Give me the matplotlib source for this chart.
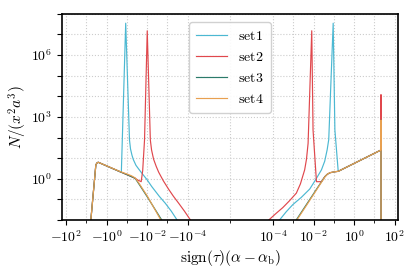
import numpy as np
import matplotlib
matplotlib.use("Agg")
import matplotlib.pyplot as plt
from matplotlib.ticker import FixedLocator, FixedFormatter, NullFormatter

plt.rcParams['mathtext.fontset'] = 'cm'
plt.rcParams['font.family'] = ['DejaVu Serif']

nan = np.nan

# ---- data (x = sign(tau)(alpha-alpha_b), y = N/(x^2 a^3)) ----
base_left_x = [-6.5, -6.0, -3.4, -3.0, -2.6, -0.22, -0.10, -0.06, -0.039,
               -0.025, -0.01, -0.0019, -1e-4]
base_left_y = [1e-3, 1e-2, 4.7, 5.8, 6.3, 2.2, 1.58, 1.27, 1.05,
               0.543, 0.136, 0.01, 1.3e-4]
base_right_x = [1e-4, 1.4e-3, 0.0036, 0.01, 0.036, 0.048, 0.065, 0.1, 0.166,
                21.0, 21.3, 21.6]
base_right_y = [2e-4, 0.01, 0.041, 0.188, 1.26, 1.66, 1.95, 2.14, 2.29,
                24.5, 700.0, 1e-3]

set1_x = [-6.5, -6.0, -3.4, -3.0, -2.6, -0.22, -0.187, -0.114,
          -0.0741, -0.0661, -0.0562, -0.0479, -0.0355, -0.0251, -0.0182, -0.01,
          -0.00589, -0.00251, -0.00126, -6.31e-4, -3.31e-4, -1.26e-4, nan,
          6.31e-5, 2.09e-4, 4.47e-4, 9.55e-4, 2.51e-3, 6.46e-3, 0.0126, 0.0245,
          0.0355, 0.0468, 0.0562, 0.0931, 0.113, 0.165, 21.0, 21.3, 21.6]
set1_y = [1e-3, 1e-2, 4.7, 5.8, 6.3, 2.2, 2.07, 3.5e7,
          75.9, 28.2, 14.1, 8.51, 4.47, 2.82, 1.86, 0.891,
          0.417, 0.141, 0.0646, 0.0263, 0.01, 2.82e-3, nan,
          1.58e-3, 0.01, 0.0251, 0.0562, 0.126, 0.316, 0.891, 2.69,
          7.08, 25.1, 79.4, 3.5e7, 234.0, 2.29, 24.5, 700.0, 1e-3]

set2_x = [-6.5, -6.0, -3.4, -3.0, -2.6, -0.22, -0.10, -0.06, -0.039, -0.028,
          -0.0196, -0.0165, -0.0134, -0.00984,
          -0.00692, -0.00603, -0.00479, -0.00355, -0.00269, -0.00158, -8.51e-4,
          -5.01e-4, -2.75e-4, -1.41e-4, -7.24e-5, -3.16e-5, nan,
          2.51e-5, 6.17e-5, 1.41e-4, 3.02e-4, 6.31e-4, 1.41e-3, 2.24e-3, 3.63e-3,
          4.47e-3, 5.37e-3, 8.13e-3, 9.42e-3, 0.0139, 0.0246, 0.036, 0.048,
          0.065, 0.1, 0.166, 21.0, 21.4, 21.6]
set2_y = [1e-3, 1e-2, 4.7, 5.8, 6.3, 2.2, 1.58, 1.27, 1.05, 0.85,
          0.72, 2.5, 75.9, 1.5e7,
          75.9, 25.1, 8.91, 3.98, 2.09, 0.794, 0.302,
          0.141, 0.0646, 0.0263, 0.01, 2.82e-3, nan,
          3.16e-3, 0.01, 0.0209, 0.0398, 0.0832, 0.2, 0.562, 2.69,
          8.91, 52.5, 1.5e7, 234.0, 0.72, 0.72, 1.26, 1.66,
          1.95, 2.14, 2.29, 24.5, 1.2e4, 1e-3]

set3_x = base_left_x + [nan] + base_right_x
set3_y = base_left_y + [nan] + base_right_y

set4_x = [-6.5, -6.0, -3.4, -3.0, -2.6, -0.22, -0.10, -0.06, -0.039,
          -0.025, -0.01, -0.0021, -1e-4, nan,
          1e-4, 1.5e-3, 0.0038, 0.0105, 0.037, 0.049, 0.065, 0.1, 0.166,
          21.0, 21.3, 21.6]
set4_y = [1e-3, 1e-2, 4.7, 5.8, 6.3, 2.25, 1.7, 1.4, 1.1,
          0.6, 0.15, 0.01, 1.1e-4, nan,
          1.8e-4, 0.01, 0.04, 0.185, 1.26, 1.7, 1.97, 2.15, 2.29,
          24.5, 700.0, 1e-3]

labels = ['set1', 'set2', 'set3', 'set4']
colors = ['#4bb8d2', '#e0474c', '#2b7a6a', '#e8a050']

xtick_vals = [-100, -1, -1e-2, -1e-4, 1e-4, 1e-2, 1, 100]
xtick_labels = [r'$-10^{2}$', r'$-10^{0}$', r'$-10^{-2}$', r'$-10^{-4}$',
                r'$10^{-4}$', r'$10^{-2}$', r'$10^{0}$', r'$10^{2}$']
ytick_label_exps = [0, 3, 6]

fig = plt.figure(figsize=(4.16, 2.76), dpi=100)
ax = fig.add_axes([0.149, 0.203, 0.808, 0.747])

series = [(set1_x, set1_y), (set2_x, set2_y), (set3_x, set3_y), (set4_x, set4_y)]
for (xs, ys), lab, c in zip(series, labels, colors):
    ax.plot(xs, ys, color=c, lw=0.85, label=r'$\mathrm{%s}$' % lab)

ax.set_xscale('symlog', linthresh=1e-5, linscale=1)
ax.set_yscale('log')
ax.set_xlim(-160, 150)
ax.set_ylim(1e-2, 1e8)

ax.xaxis.set_major_locator(FixedLocator(xtick_vals))
ax.xaxis.set_major_formatter(FixedFormatter(xtick_labels))
minor_x = [-10, -0.1, -1e-3, 0, 1e-3, 0.1, 10]
ax.xaxis.set_minor_locator(FixedLocator(minor_x))
ax.xaxis.set_minor_formatter(NullFormatter())
ax.yaxis.set_major_locator(FixedLocator([10.0**k for k in range(-2, 9)]))
ax.yaxis.set_major_formatter(FixedFormatter(
    [r'$10^{%d}$' % k if k in ytick_label_exps else '' for k in range(-2, 9)]))
ax.yaxis.set_minor_formatter(NullFormatter())
ax.yaxis.set_minor_locator(FixedLocator([]))

ax.tick_params(axis='both', which='major', labelsize=10, length=3.5, width=0.8, direction='out')
ax.tick_params(axis='both', which='minor', length=2, width=0.6)
ax.grid(True, which='both', color='#cccccc', linestyle=':', linewidth=0.8)
for s in ax.spines.values():
    s.set_linewidth(1.2)

ax.set_xlabel(r'$\mathrm{sign}(\tau)(\alpha-\alpha_\mathrm{b})$', fontsize=11, labelpad=2)
ax.set_ylabel(r'$N/(x^2a^3)$', fontsize=11, labelpad=2)

leg = ax.legend(loc='upper center', fontsize=10, frameon=True, fancybox=True,
                edgecolor='#cccccc', framealpha=0.9, handlelength=2.2,
                borderaxespad=0.6, borderpad=0.5)

fig.savefig('out.png', dpi=100)
